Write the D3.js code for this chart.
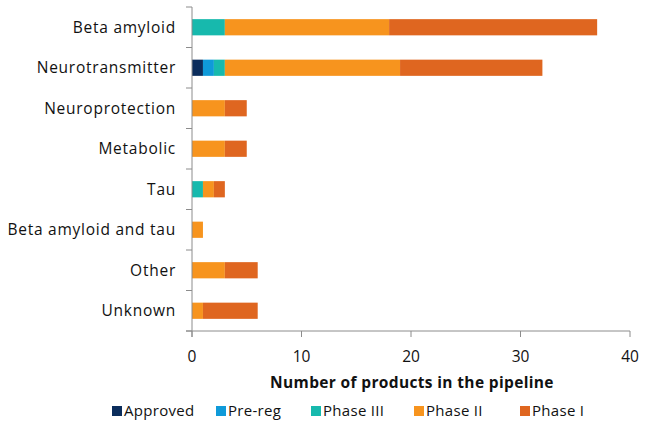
<!DOCTYPE html>
<html><head><meta charset="utf-8">
<script src="https://cdn.jsdelivr.net/npm/d3@7"></script>
<style>body{margin:0;background:#fff}svg{display:block}</style>
</head><body>
<svg id="c" width="646" height="424"></svg>
<script>
const categories = ["Beta amyloid","Neurotransmitter","Neuroprotection","Metabolic","Tau","Beta amyloid and tau","Other","Unknown"];
const seriesNames = ["Approved","Pre-reg","Phase III","Phase II","Phase I"];
const approved = [0,1,0,0,0,0,0,0];
const preReg   = [0,1,0,0,0,0,0,0];
const phase3   = [3,1,0,0,1,0,0,0];
const phase2   = [15,16,3,3,1,1,3,1];
const phase1   = [19,13,2,2,1,0,3,5];
const xTicks = [0,10,20,30,40];
const colors = ["#0b2d5c","#0f9ad9","#17b9ad","#f7941e","#df6620"];

const seriesVals = [approved, preReg, phase3, phase2, phase1];
const rows = categories.map((c,i)=>{const o={cat:c}; seriesNames.forEach((s,j)=>o[s]=seriesVals[j][i]); return o;});
const stack = d3.stack().keys(seriesNames)(rows);

const font = "'Open Sans', sans-serif";
const svg = d3.select("#c");
const m = {l:192, r:630, t:7, b:331};
const x = d3.scaleLinear().domain([0,40]).range([m.l, m.r]);
const y = d3.scaleBand().domain(categories).range([m.t, m.b]).paddingInner(0.6).paddingOuter(0.3);

// bars
svg.append("g").selectAll("g").data(stack).join("g")
  .attr("fill",(d,i)=>colors[i])
  .selectAll("rect").data(d=>d).join("rect")
  .attr("x",d=>x(d[0])).attr("y",d=>y(d.data.cat))
  .attr("width",d=>x(d[1])-x(d[0])).attr("height",y.bandwidth());

// y axis
const yb = d3.scaleBand().domain(categories).range([m.t,m.b]);
const yg = svg.append("g");
yg.append("line").attr("x1",m.l).attr("x2",m.l).attr("y1",m.t).attr("y2",m.b+6).attr("stroke","#8c8c8c");
const bounds = categories.map(c=>yb(c)).concat([m.b]);
yg.selectAll("line.t").data(bounds).join("line").attr("class","t")
  .attr("x1",m.l-6).attr("x2",m.l).attr("y1",d=>d).attr("y2",d=>d).attr("stroke","#8c8c8c");
yg.selectAll("text").data(categories).join("text")
  .attr("x",m.l-16).attr("y",d=>yb(d)+yb.bandwidth()/2).attr("dy","0.35em")
  .attr("text-anchor","end").attr("font-family",font).attr("font-size",15.5).attr("letter-spacing",0.75).attr("fill","#111")
  .text(d=>d);

// x axis
const xg = svg.append("g");
xg.append("line").attr("x1",m.l-6).attr("x2",m.r).attr("y1",m.b).attr("y2",m.b).attr("stroke","#8c8c8c");
xg.selectAll("line.t").data(xTicks).join("line").attr("class","t")
  .attr("x1",d=>x(d)).attr("x2",d=>x(d)).attr("y1",m.b).attr("y2",m.b+6).attr("stroke","#8c8c8c");
xg.selectAll("text").data(xTicks).join("text")
  .attr("x",d=>x(d)).attr("y",m.b+26).attr("dy","0.35em").attr("text-anchor","middle")
  .attr("font-family",font).attr("font-size",15.5).attr("fill","#111").text(d=>d);
svg.append("text").attr("x",412).attr("y",383).attr("dy","0.35em").attr("text-anchor","middle")
  .attr("font-family",font).attr("font-size",15.5).attr("font-weight","bold").attr("letter-spacing",0.35).attr("fill","#111")
  .text("Number of products in the pipeline");

// legend
const legX = [112,216,311,414,520];
const lg = svg.append("g").selectAll("g").data(seriesNames).join("g")
  .attr("transform",(d,i)=>`translate(${legX[i]},411)`);
lg.append("rect").attr("x",0).attr("y",-5).attr("width",10).attr("height",10).attr("fill",(d,i)=>colors[i]);
lg.append("text").attr("x",12).attr("y",0).attr("dy","0.35em").attr("font-family",font).attr("font-size",15)
  .attr("letter-spacing",0.3).attr("fill","#111").text(d=>d);
</script>
</body></html>
